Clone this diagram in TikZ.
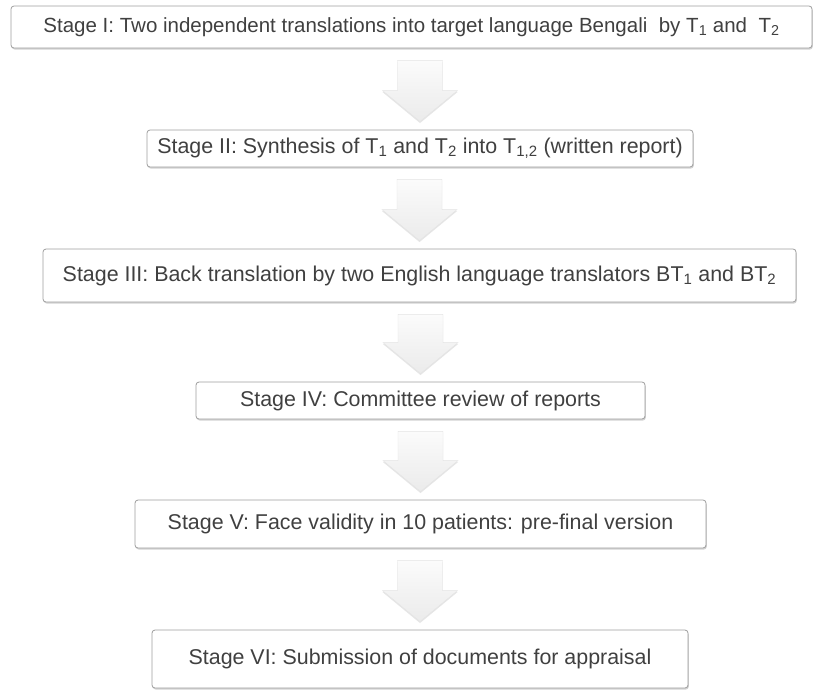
\documentclass[tikz,border=0pt]{standalone}
\usepackage{fontspec}
\setmainfont{Liberation Sans}
\usetikzlibrary{calc,shadows}
\definecolor{textgray}{RGB}{64,64,64}
\definecolor{boxline}{RGB}{158,158,158}
\newcommand{\stagearrow}[2]{%
  \path[arrowfill] let \p1=(#1.south), \p2=(#2.north) in
    (\x2-22.5pt,\y1-12pt) -- (\x2+22.5pt,\y1-12pt) -- (\x2+22.5pt,\y2+39pt)
    -- (\x2+37.5pt,\y2+39pt) -- (\x2,\y2+8pt) -- (\x2-37.5pt,\y2+39pt)
    -- (\x2-22.5pt,\y2+39pt) -- cycle;}
\begin{document}
\begin{tikzpicture}[x=1pt,y=-1pt,
  stagebox/.style={draw=boxline,fill=white,rounded corners=3pt,line width=0.8pt,
    inner sep=0pt,text=textgray,font=\fontsize{21.4}{25}\selectfont,
    drop shadow={shadow xshift=0.8pt,shadow yshift=-1.6pt,opacity=0.35,fill=gray}},
  arrowfill/.style={top color=gray!3,bottom color=gray!16,draw=gray!22,line width=0.4pt,
    drop shadow={shadow xshift=0pt,shadow yshift=-1.5pt,opacity=0.2,fill=gray}}]
\useasboundingbox (0,0) rectangle (818,691);

\node[stagebox,minimum width=801,minimum height=42,font=\fontsize{20.5}{24}\selectfont] (s1) at (411.5,27)
  {Stage I: Two independent translations into target language Bengali\ \ by T\textsubscript{1} and\ \ T\textsubscript{2}};
\node[stagebox,minimum width=546,minimum height=37] (s2) at (420,148.5)
  {Stage II: Synthesis of T\textsubscript{1} and T\textsubscript{2} into T\textsubscript{1,2} (written report)};
\node[stagebox,minimum width=753,minimum height=53] (s3) at (419.5,275.5)
  {Stage III: Back translation by two English language translators BT\textsubscript{1} and BT\textsubscript{2}};
\node[stagebox,minimum width=449,minimum height=37] (s4) at (420.5,400.5)
  {Stage IV: Committee review of reports};
\node[stagebox,minimum width=571,minimum height=48] (s5) at (420.5,524)
  {Stage V: Face validity in 10 patients: pre-final version};
\node[stagebox,minimum width=536,minimum height=58] (s6) at (420,659)
  {Stage VI: Submission of documents for appraisal};

\stagearrow{s1}{s2}
\stagearrow{s2}{s3}
\stagearrow{s3}{s4}
\stagearrow{s4}{s5}
\stagearrow{s5}{s6}
\end{tikzpicture}
\end{document}
